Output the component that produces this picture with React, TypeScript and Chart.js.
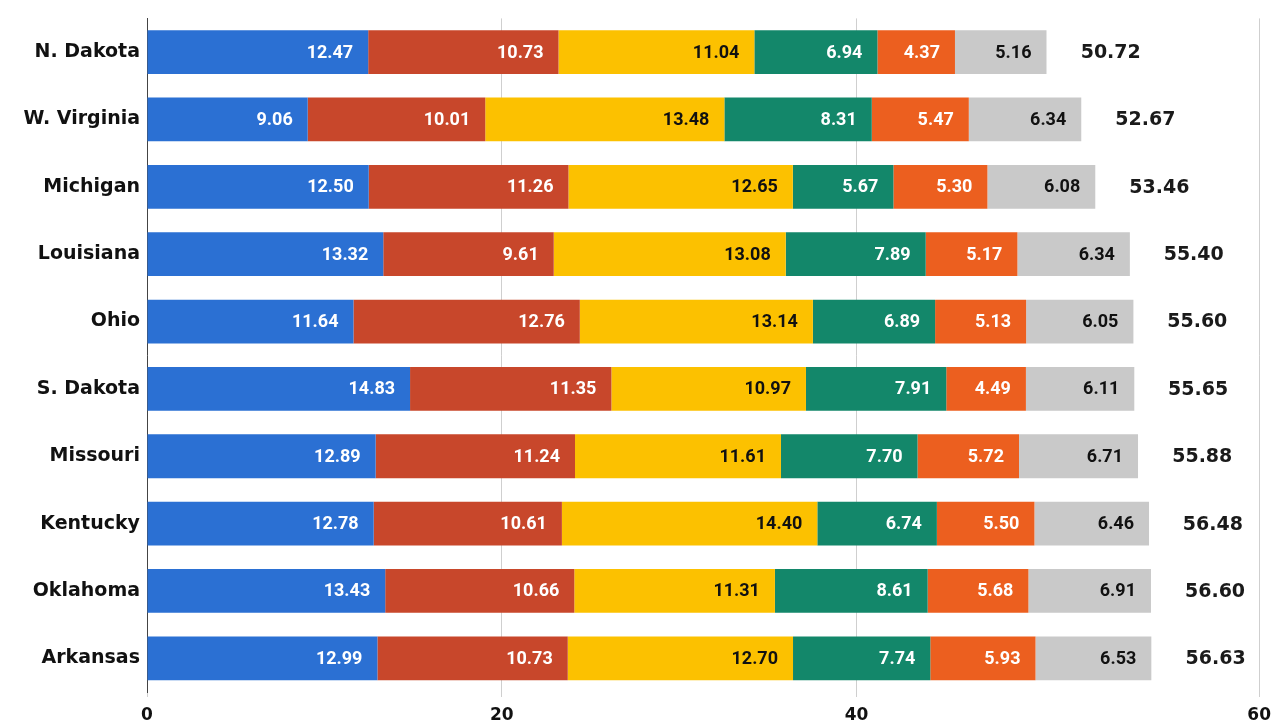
import React, { useEffect, useRef } from "react";
import { Chart, registerables } from "chart.js";

Chart.register(...registerables);

const states = ["N. Dakota", "W. Virginia", "Michigan", "Louisiana", "Ohio", "S. Dakota", "Missouri", "Kentucky", "Oklahoma", "Arkansas"];

const series1 = [12.47, 9.06, 12.5, 13.32, 11.64, 14.83, 12.89, 12.78, 13.43, 12.99];
const series2 = [10.73, 10.01, 11.26, 9.61, 12.76, 11.35, 11.24, 10.61, 10.66, 10.73];
const series3 = [11.04, 13.48, 12.65, 13.08, 13.14, 10.97, 11.61, 14.4, 11.31, 12.7];
const series4 = [6.94, 8.31, 5.67, 7.89, 6.89, 7.91, 7.7, 6.74, 8.61, 7.74];
const series5 = [4.37, 5.47, 5.3, 5.17, 5.13, 4.49, 5.72, 5.5, 5.68, 5.93];
const series6 = [5.16, 6.34, 6.08, 6.34, 6.05, 6.11, 6.71, 6.46, 6.91, 6.53];
const totals = [50.72, 52.67, 53.46, 55.4, 55.6, 55.65, 55.88, 56.48, 56.6, 56.63];

const tickValues = [0, 20, 40, 60];
const tickLabels = ["0", "20", "40", "60"];

const colors = ["#2b70d3", "#c8472b", "#fcc100", "#13876a", "#ec5f1f", "#c9c9c9"];
const labelColors = ["#ffffff", "#ffffff", "#111111", "#ffffff", "#ffffff", "#111111"];

const AXIS_MAX = 62.7;

const labelPlugin = {
  id: "segLabels",
  afterDatasetsDraw(chart: any) {
    const ctx = chart.ctx;
    ctx.save();
    ctx.textBaseline = "middle";
    chart.data.datasets.forEach((ds: any, di: number) => {
      const meta = chart.getDatasetMeta(di);
      ctx.font = "bold 18px Roboto";
      ctx.fillStyle = labelColors[di];
      ctx.textAlign = "right";
      meta.data.forEach((el: any, i: number) => {
        ctx.fillText(ds.data[i].toFixed(2), el.x - 15, el.y + 1);
      });
    });
    const xs = chart.scales.x;
    const meta0 = chart.getDatasetMeta(0);
    ctx.font = "bold 19px 'DejaVu Sans'";
    ctx.fillStyle = "#1a1a1a";
    ctx.textAlign = "left";
    totals.forEach((t, i) => {
      const px = xs.getPixelForValue(t);
      ctx.fillText(t.toFixed(2), px + 34, meta0.data[i].y + 1);
    });
    ctx.restore();
  },
};

export default function App() {
  const ref = useRef<HTMLCanvasElement>(null);
  useEffect(() => {
    if (!ref.current) return;
    const all = [series1, series2, series3, series4, series5, series6];
    const chart = new Chart(ref.current, {
      type: "bar",
      data: {
        labels: states,
        datasets: all.map((d, i) => ({
          label: "Component " + (i + 1),
          data: d,
          backgroundColor: colors[i],
          borderWidth: 0,
          barPercentage: 0.65,
          categoryPercentage: 1,
        })),
      },
      options: {
        indexAxis: "y",
        animation: false,
        responsive: true,
        maintainAspectRatio: false,
        layout: { padding: { left: 0, right: 15, top: 14, bottom: 0 } },
        plugins: { legend: { display: false }, tooltip: { enabled: false } },
        scales: {
          x: {
            stacked: true,
            min: 0,
            max: AXIS_MAX,
            afterBuildTicks: (s: any) => {
              s.ticks = [...tickValues.slice(0, 3), AXIS_MAX].map((v) => ({ value: v }));
            },
            afterFit: (s: any) => {
              s.height = 28;
            },
            ticks: {
              callback: (_v: any, idx: number) => tickLabels[idx],
              color: "#111",
              font: { family: "'DejaVu Sans'", size: 17, weight: "bold" },
              padding: 8,
              maxRotation: 0,
              autoSkip: false,
            },
            grid: { color: "#cfcfcf", lineWidth: 1, tickLength: 5, drawTicks: true },
            border: { display: false },
          },
          y: {
            stacked: true,
            afterFit: (s: any) => {
              s.width = 147;
            },
            ticks: {
              color: "#111",
              font: { family: "'DejaVu Sans'", size: 19, weight: "bold" },
              padding: 7,
            },
            grid: { display: false, drawTicks: false },
            border: { display: true, color: "#444", width: 1 },
          },
        },
      },
      plugins: [labelPlugin],
    });
    return () => chart.destroy();
  }, []);
  return (
    <div style={{ position: "fixed", left: 0, top: 0, width: 1279, height: 720, background: "#fff" }}>
      <canvas ref={ref} />
    </div>
  );
}
